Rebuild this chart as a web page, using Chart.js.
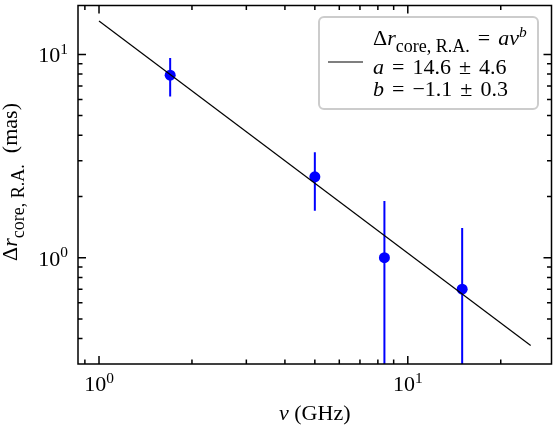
<!DOCTYPE html>
<html>
<head>
<meta charset="utf-8">
<script src="https://cdn.jsdelivr.net/npm/chart.js@4.4.1/dist/chart.umd.min.js"></script>
<style>
  body { margin: 0; background: #fff; }
  #wrap { width: 557px; height: 428px; }
</style>
</head>
<body>
<div id="wrap"><canvas id="chart" width="557" height="428"></canvas></div>
<script>
// Data
const freqs = [1.7, 5.0, 8.4, 15.0];          // GHz
const offsets = [7.9, 2.5, 1.0, 0.7];         // mas
const errors = [1.7, 0.8, 0.9, 0.7];          // mas
const fitX = [1, 25];
const fitY = [14.6, 0.37];

const xMajor = [1, 10];
const xMinor = [0.9, 2, 3, 4, 5, 6, 7, 8, 9, 20];
const yMajor = [1, 10];
const yMinor = [0.4, 0.5, 0.6, 0.7, 0.8, 0.9, 2, 3, 4, 5, 6, 7, 8, 9];
const tickExp = { 1: '0', 10: '1' };

const SERIF = '"Liberation Serif", "DejaVu Serif", serif';

// draw a run of text pieces: {t, i (italic), sub, sup} or {gap: px}
function pieceSize(p, size) {
  if (p.sub) return size * 0.82;
  if (p.sup) return size * 0.7;
  return size;
}
function pieceWidth(ctx, p, size) {
  if (p.gap) return p.gap;
  ctx.font = `${p.i ? 'italic ' : ''}${pieceSize(p, size)}px ${SERIF}`;
  return ctx.measureText(p.t).width;
}
function drawRich(ctx, x, y, parts, size, align) {
  const total = parts.reduce((w, p) => w + pieceWidth(ctx, p, size), 0);
  let cx = x;
  if (align === 'center') cx -= total / 2;
  if (align === 'right') cx -= total;
  ctx.textAlign = 'left';
  ctx.textBaseline = 'alphabetic';
  parts.forEach(p => {
    const w = pieceWidth(ctx, p, size);
    if (!p.gap) {
      let dy = 0;
      if (p.sub) dy = size * 0.3;
      if (p.sup) dy = -size * 0.38;
      ctx.fillText(p.t, cx, y + dy);
    }
    cx += w;
  });
}

const decorations = {
  id: 'decorations',
  beforeDatasetsDraw(chart) {
    const { ctx, chartArea: a, scales: { x, y } } = chart;
    ctx.save();
    ctx.beginPath();
    ctx.rect(a.left, a.top, a.right - a.left, a.bottom - a.top);
    ctx.clip();
    ctx.strokeStyle = '#0000ff';
    ctx.lineWidth = 2;
    freqs.forEach((f, i) => {
      const px = x.getPixelForValue(f);
      const lo = Math.max(offsets[i] - errors[i], y.min * 0.5);
      ctx.beginPath();
      ctx.moveTo(px, y.getPixelForValue(offsets[i] + errors[i]));
      ctx.lineTo(px, y.getPixelForValue(lo));
      ctx.stroke();
    });
    ctx.restore();
  },
  afterDraw(chart) {
    const { ctx, chartArea: a, scales: { x, y } } = chart;
    ctx.save();
    ctx.strokeStyle = '#000';
    ctx.fillStyle = '#000';
    ctx.lineWidth = 1.5;
    ctx.strokeRect(a.left, a.top, a.right - a.left, a.bottom - a.top);

    const tickX = (v, len) => {
      const px = x.getPixelForValue(v);
      ctx.beginPath();
      ctx.moveTo(px, a.bottom); ctx.lineTo(px, a.bottom - len);
      ctx.moveTo(px, a.top); ctx.lineTo(px, a.top + len);
      ctx.stroke();
    };
    const tickY = (v, len) => {
      const py = y.getPixelForValue(v);
      ctx.beginPath();
      ctx.moveTo(a.left, py); ctx.lineTo(a.left + len, py);
      ctx.moveTo(a.right, py); ctx.lineTo(a.right - len, py);
      ctx.stroke();
    };
    xMajor.forEach(v => tickX(v, 8));
    xMinor.forEach(v => tickX(v, 4.5));
    yMajor.forEach(v => tickY(v, 8));
    yMinor.forEach(v => tickY(v, 4.5));

    // tick labels
    xMajor.forEach(v => {
      drawRich(ctx, x.getPixelForValue(v), a.bottom + 27,
        [{ t: '10' }, { t: tickExp[v], sup: true }], 22, 'center');
    });
    yMajor.forEach(v => {
      drawRich(ctx, a.left - 10, y.getPixelForValue(v) + 8,
        [{ t: '10' }, { t: tickExp[v], sup: true }], 22, 'right');
    });

    // axis titles
    drawRich(ctx, (a.left + a.right) / 2, 420,
      [{ t: 'ν', i: true }, { t: ' (GHz)' }], 22, 'center');
    ctx.save();
    ctx.translate(17, 182);
    ctx.rotate(-Math.PI / 2);
    drawRich(ctx, 0, 0,
      [{ t: 'Δ' }, { t: 'r', i: true }, { t: 'core, R.A.', sub: true }, { t: '  (mas)' }], 22, 'center');
    ctx.restore();

    // legend
    const lx = 319, ly = 17, lw = 219, lh = 92;
    ctx.beginPath();
    ctx.roundRect(lx, ly, lw, lh, 5);
    ctx.fillStyle = 'rgba(255,255,255,0.8)';
    ctx.fill();
    ctx.strokeStyle = '#cccccc';
    ctx.lineWidth = 2;
    ctx.stroke();
    ctx.strokeStyle = '#000';
    ctx.lineWidth = 1.2;
    ctx.beginPath();
    ctx.moveTo(328, 62); ctx.lineTo(363, 62);
    ctx.stroke();
    ctx.fillStyle = '#000';
    const g = { gap: 2.5 };
    drawRich(ctx, 373, 45, [{ t: 'Δ' }, { t: 'r', i: true }, { t: 'core, R.A.', sub: true },
      g, { t: ' = ' }, g, { t: 'aν', i: true }, { t: 'b', i: true, sup: true }], 22);
    drawRich(ctx, 373, 74, [{ t: 'a', i: true }, g, { t: ' = ' }, g, { t: '14.6' },
      g, { t: ' ± ' }, g, { t: '4.6' }], 22);
    drawRich(ctx, 373, 96, [{ t: 'b', i: true }, g, { t: ' = ' }, g, { t: '−1.1' },
      g, { t: ' ± ' }, g, { t: '0.3' }], 22);
    ctx.restore();
  }
};

new Chart(document.getElementById('chart'), {
  type: 'scatter',
  data: {
    datasets: [
      {
        type: 'line',
        label: 'fit',
        data: fitX.map((v, i) => ({ x: v, y: fitY[i] })),
        borderColor: '#000',
        borderWidth: 1.2,
        pointRadius: 0,
        fill: false
      },
      {
        label: 'data',
        data: freqs.map((v, i) => ({ x: v, y: offsets[i] })),
        backgroundColor: '#0000ff',
        borderWidth: 0,
        pointRadius: 5.5
      }
    ]
  },
  options: {
    responsive: false,
    animation: false,
    layout: { padding: { top: 2, right: 4, left: 0, bottom: 0 } },
    plugins: { legend: { display: false }, tooltip: { enabled: false } },
    scales: {
      x: {
        type: 'logarithmic',
        min: 0.855,
        max: 29.2,
        grid: { display: false },
        border: { display: false },
        ticks: { display: false },
        afterFit: s => { s.height = 64; }
      },
      y: {
        type: 'logarithmic',
        min: 0.311,
        max: 17.4,
        grid: { display: false },
        border: { display: false },
        ticks: { display: false },
        afterFit: s => { s.width = 78; }
      }
    }
  },
  plugins: [decorations]
});
</script>
</body>
</html>
